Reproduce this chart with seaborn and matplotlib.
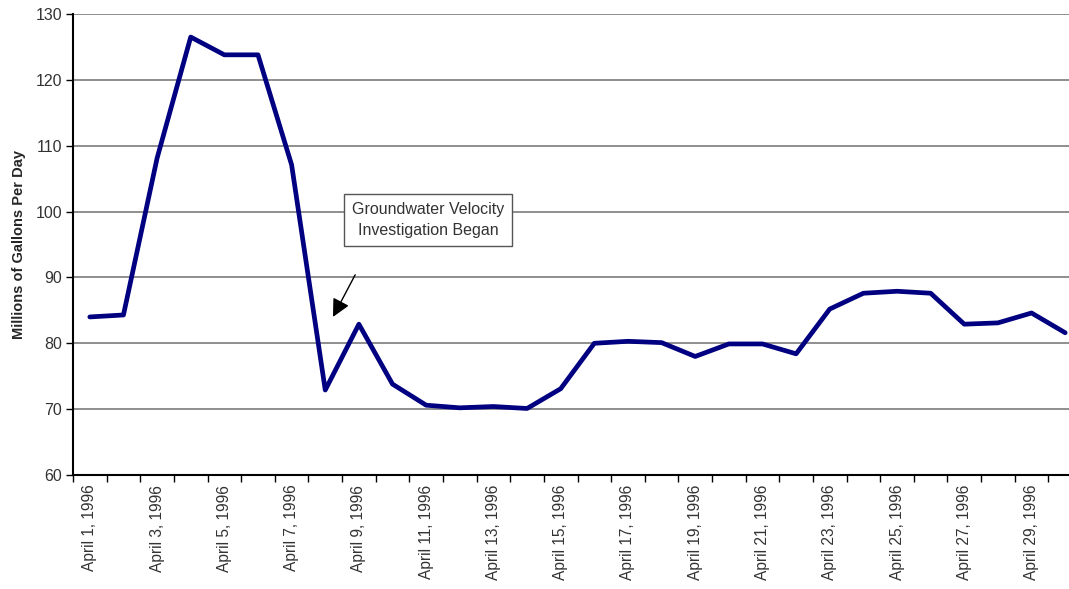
import matplotlib
matplotlib.use("Agg")
import matplotlib.pyplot as plt
import seaborn as sns
import numpy as np
import pandas as pd

days = [f"April {d}, 1996" for d in range(1, 31)]
flow = [84.0, 84.3, 108.1, 126.5, 123.8, 123.8, 107.1, 72.9, 82.9, 73.8,
        70.6, 70.2, 70.4, 70.1, 73.1, 80.0, 80.3, 80.1, 78.0, 79.9,
        79.9, 78.4, 85.2, 87.6, 87.9, 87.6, 82.9, 83.1, 84.6, 81.6]
y_ticks = [60, 70, 80, 90, 100, 110, 120, 130]
y_label = "Millions of Gallons Per Day"
note = "Groundwater Velocity\nInvestigation Began"

sns.set_theme(style="white")
plt.rcParams['font.family'] = ['Liberation Sans', 'DejaVu Sans']

df = pd.DataFrame({"idx": np.arange(len(days)), "day": days, "flow": flow})

fig = plt.figure(figsize=(10.69, 5.89), dpi=100)
ax = fig.add_axes([73/1069, (589-475)/589, (1082-73)/1069, (475-14)/589])

sns.lineplot(data=df, x="idx", y="flow", ax=ax, color="#000080", linewidth=3.4)

ax.set_xlim(-0.5, len(days) - 0.5)
ax.set_ylim(60, 130)
ax.set_yticks(y_ticks)
ax.set_yticklabels([str(v) for v in y_ticks], fontsize=11.5, color="#333333")
ax.yaxis.grid(True, color="#707070", linewidth=1.1)
ax.xaxis.grid(False)

# category boundary ticks
ax.set_xticks(np.arange(len(days) + 1) - 0.5)
ax.set_xticklabels([])
ax.set_xticks(df["idx"][::2], minor=True)
ax.set_xticklabels(df["day"][::2], minor=True, rotation=90, fontsize=11.2, color="#333333")
ax.tick_params(axis="x", which="major", length=5, width=1, color="black", direction="out", bottom=True)
ax.tick_params(axis="x", which="minor", length=0, pad=7)
ax.tick_params(axis="y", length=5, width=1, color="black", direction="out", left=True, pad=3)

for s in ["top", "right"]:
    ax.spines[s].set_visible(False)
for s in ["left", "bottom"]:
    ax.spines[s].set_color("black")
    ax.spines[s].set_linewidth(1.5)

ax.set_xlabel("")
ax.set_ylabel(y_label, fontsize=10.5, fontweight="bold", labelpad=7)

ax.text(10.05, 98.7, note, ha="center", va="center", fontsize=11.5, color="#333333",
        linespacing=1.55,
        bbox=dict(boxstyle="square,pad=0.5", fc="white", ec="#555555", lw=1))
ax.annotate("", xy=(7.23, 84.0), xytext=(7.89, 90.4),
            arrowprops=dict(arrowstyle="-|>,head_length=0.9,head_width=0.45",
                            color="black", lw=1, shrinkA=0, shrinkB=0))

fig.savefig("out.png", dpi=100)
